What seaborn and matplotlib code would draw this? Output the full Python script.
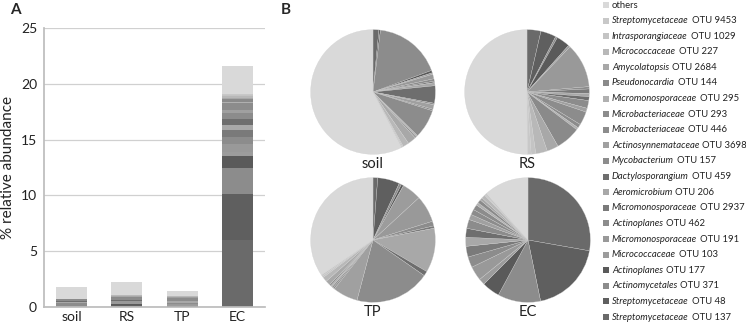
import numpy as np
import pandas as pd
import matplotlib
matplotlib.use("Agg")
import matplotlib.pyplot as plt
import seaborn as sns
from matplotlib.patches import Rectangle

#----------------------------------
# Style
#----------------------------------
sns.set_theme(style="white")
plt.rcParams['font.family'] = ['Lato', 'DejaVu Sans']

#----------------------------------
# Data (bottom of stack -> top of stack)
#----------------------------------
samples = ["soil", "RS", "TP", "EC"]

taxa = ["Streptomycetaceae", "Streptomycetaceae", "Actinomycetales", "Actinoplanes",
        "Micrococcaceae", "Micromonosporaceae", "Actinoplanes", "Micromonosporaceae",
        "Aeromicrobium", "Dactylosporangium", "Mycobacterium", "Actinosynnemataceae",
        "Microbacteriaceae", "Microbacteriaceae", "Micromonosporaceae", "Pseudonocardia",
        "Amycolatopsis", "Micrococcaceae", "Intrasporangiaceae", "Streptomycetaceae",
        "others"]
otus = ["137", "48", "371", "177", "103", "191", "462", "2937", "206", "459", "157",
        "3698", "446", "293", "295", "144", "2684", "227", "1029", "9453", ""]

soil_vals = [0.027, 0.007, 0.31, 0.011, 0.007, 0.021, 0.011, 0.007, 0.014, 0.08, 0.007,
             0.021, 0.007, 0.133, 0.007, 0.007, 0.039, 0.028, 0.005, 0.005, 1.02]
rs_vals = [0.079, 0.088, 0.011, 0.077, 0.011, 0.253, 0.013, 0.026, 0.018, 0.022, 0.044,
           0.022, 0.077, 0.022, 0.013, 0.141, 0.066, 0.066, 0.026, 0.022, 1.10]
tp_vals = [0.018, 0.084, 0.009, 0.009, 0.074, 0.103, 0.018, 0.009, 0.169, 0.018, 0.287,
           0.096, 0.006, 0.006, 0.006, 0.006, 0.018, 0.018, 0.006, 0.006, 0.508]
ec_vals = [6.0, 4.1, 2.4, 1.0, 0.35, 0.8, 0.6, 0.6, 0.5, 0.5, 0.5, 0.3, 0.3, 0.3,
           0.15, 0.2, 0.15, 0.2, 0.05, 0.1, 2.5]

colors = ["#6a6a6a", "#5f5f5f", "#8c8c8c", "#5a5a5a", "#9c9c9c", "#999999", "#8c8c8c",
          "#7a7a7a", "#a8a8a8", "#6e6e6e", "#8c8c8c", "#a0a0a0", "#8c8c8c", "#8c8c8c",
          "#b0b0b0", "#8a8a8a", "#a8a8a8", "#b8b8b8", "#c4c4c4", "#c8c8c8", "#d9d9d9"]

df = pd.DataFrame({"soil": soil_vals, "RS": rs_vals, "TP": tp_vals, "EC": ec_vals})
cum = df.cumsum(axis=0)

W, H = 746, 325
fig = plt.figure(figsize=(W / 100, H / 100), dpi=100)

#----------------------------------
# Panel A: stacked bars
#----------------------------------
ax = fig.add_axes([44 / W, 18 / H, 221 / W, 279 / H])
for i in reversed(range(len(taxa))):
    sns.barplot(x=samples, y=cum.iloc[i].values, color=colors[i], saturation=1,
                width=0.56, ax=ax, linewidth=0)
ax.set_ylim(0, 25)
ax.set_yticks([0, 5, 10, 15, 20, 25])
ax.yaxis.grid(True, color="#d0d0d0", linewidth=0.9)
ax.set_axisbelow(True)
for s in ["top", "right"]:
    ax.spines[s].set_visible(False)
ax.spines["left"].set_color("#bdbdbd")
ax.spines["bottom"].set_color("#bdbdbd")
ax.tick_params(axis="both", length=0, labelsize=10, colors="#222222", pad=5)
ax.tick_params(axis="x", pad=3)
ax.set_ylabel("% relative abundance", fontsize=11, color="#222222", labelpad=4)
ax.set_xlabel("")

fig.text(10 / W, 1 - 10 / H, "A", fontsize=11, fontweight="bold", va="center")
fig.text(281 / W, 1 - 10 / H, "B", fontsize=11, fontweight="bold", va="center")

#----------------------------------
# Panel B: pies
#----------------------------------
centers = {"soil": (373, 92), "RS": (527, 92), "TP": (373, 240), "EC": (528, 240)}
r = 63
for name in samples:
    cx, cy = centers[name]
    pax = fig.add_axes([(cx - r) / W, 1 - (cy + r) / H, 2 * r / W, 2 * r / H])
    pax.pie(df[name].values, colors=colors, startangle=90, counterclock=False,
            wedgeprops=dict(linewidth=0.2, edgecolor="#d0d0d0"))
    pax.set_xlim(-1.01, 1.01)
    pax.set_ylim(-1.01, 1.01)
    pax.set_aspect("equal")
    pax.axis("off")
    fig.text(cx / W, 1 - (cy + r + 9) / H, name, fontsize=10.5, ha="center",
             va="center", color="#222222")

#----------------------------------
# Legend (top of stack first), italic taxon + plain OTU
#----------------------------------
fig.canvas.draw()
renderer = fig.canvas.get_renderer()
leg_fs = 6.8
row_h = 15.6
for k, i in enumerate(reversed(range(len(taxa)))):
    y = 1 - (5 + k * row_h) / H
    fig.patches.append(Rectangle((603 / W, y - 3 / H), 6 / W, 6 / H, facecolor=colors[i],
                                 edgecolor="none", transform=fig.transFigure))
    if otus[i]:
        t = fig.text(612 / W, y, taxa[i], fontsize=leg_fs, style="italic",
                     va="center", color="#222222")
        bb = t.get_window_extent(renderer)
        fig.text((bb.x1 + 3) / W, y, "OTU " + otus[i], fontsize=leg_fs,
                 va="center", color="#222222")
    else:
        fig.text(612 / W, y, taxa[i], fontsize=leg_fs, va="center", color="#222222")

fig.savefig("out.png", dpi=100)
